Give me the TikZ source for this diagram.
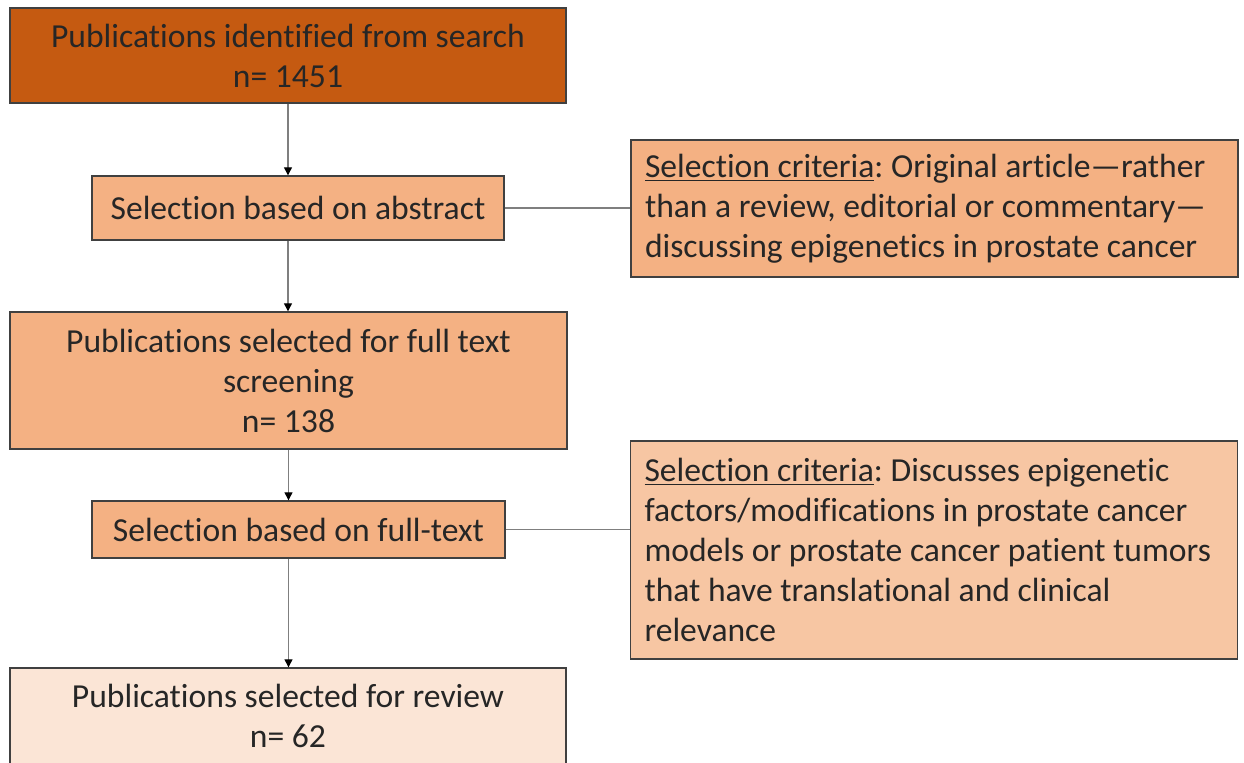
\documentclass[tikz,border=0pt]{standalone}
\usepackage{fontspec}
\setmainfont[RawFeature={-liga,-clig,-calt,-dlig}]{Carlito}
\usetikzlibrary{arrows.meta}
\definecolor{darkorange}{HTML}{C55A11}
\definecolor{midorange}{HTML}{F4B183}
\definecolor{paleorange}{HTML}{F7C6A3}
\definecolor{lightorange}{HTML}{FBE5D6}
\definecolor{linegray}{HTML}{7F7F7F}
\definecolor{textdark}{HTML}{262626}
\frenchspacing
\begin{document}
\begin{tikzpicture}[x=0.5pt, y=-0.5pt,
  box/.style={draw=black!75, line width=0.7pt, align=center, inner sep=0pt,
    font=\fontsize{16.8}{20}\selectfont, text=textdark},
  critbox/.style={box, align=flush left, inner xsep=7pt, text width=289.5pt},
  link/.style={draw=linegray, line width=0.6pt},
  flow/.style={link, -{Triangle[length=4pt, width=4pt, color=black]}}]
\useasboundingbox (0,0) rectangle (1244,762);
\clip (0,0) rectangle (1244,762);

% Main flow
\node[box, fill=darkorange, minimum width=278pt, minimum height=47.5pt] (search) at (288,55.5)
  {Publications identified from search\\n= 1451};
\node[box, fill=midorange, minimum width=206pt, minimum height=32pt] (abstract) at (298,208)
  {Selection based on abstract};
\node[box, fill=midorange, minimum width=278.5pt, minimum height=68.5pt] (fulltext) at (288.5,380.5)
  {Publications selected for full text\\screening\\n= 138};
\node[box, fill=midorange, minimum width=206.5pt, minimum height=28.5pt] (screen) at (298.5,529.5)
  {Selection based on full-text};
\node[box, fill=lightorange, minimum width=278pt, minimum height=48pt] (review) at (288,716)
  {Publications selected for review\\n= 62};

% Criteria
\node[critbox, fill=midorange, minimum height=68.5pt] (crit1) at (934.5,208.5)
  {\underline{Selection criteria}: Original article---rather\\than a review, editorial or commentary---\\discussing epigenetics in prostate cancer};
\node[critbox, fill=paleorange, minimum height=109pt] (crit2) at (934,550)
  {\underline{Selection criteria}: Discusses epigenetic\\factors/modifications in prostate cancer\\models or prostate cancer patient tumors\\that have translational and clinical\\relevance};

% Arrows
\draw[flow] (search.south) -- (search.south |- abstract.north);
\draw[flow] (abstract.south -| search.south) -- (search.south |- fulltext.north);
\draw[flow] (fulltext.south) -- (fulltext.south |- screen.north);
\draw[flow] (screen.south -| fulltext.south) -- (fulltext.south |- review.north);

% Side links
\draw[link] (abstract.east) -- (abstract.east -| crit1.west);
\draw[link] (screen.east) -- (screen.east -| crit2.west);
\end{tikzpicture}
\end{document}
